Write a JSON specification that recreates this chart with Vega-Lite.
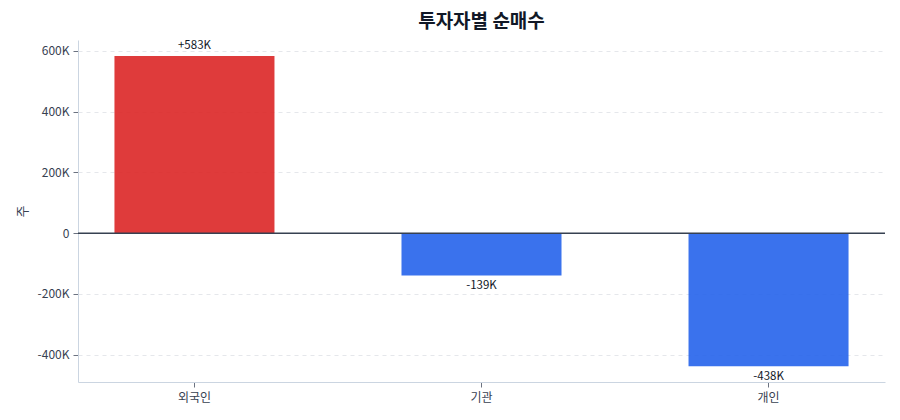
{
  "$schema": "https://vega.github.io/schema/vega-lite/v6.json",
  "description": "투자자별 순매수 bar chart",
  "autosize": "none",
  "width": 807,
  "height": 342,
  "padding": {"left": 78, "top": 40, "right": 15, "bottom": 38},
  "title": {
    "text": "투자자별 순매수",
    "fontSize": 19,
    "fontWeight": "bold",
    "color": "#111827",
    "anchor": "middle",
    "offset": 8
  },
  "data": {
    "values": [
      {"investor": "외국인", "value": 583000},
      {"investor": "기관", "value": -139000},
      {"investor": "개인", "value": -438000}
    ]
  },
  "transform": [
    {"calculate": "(datum.value > 0 ? '+' : '') + round(datum.value / 1000) + 'K'", "as": "label"}
  ],
  "encoding": {
    "x": {
      "field": "investor",
      "type": "nominal",
      "sort": null,
      "scale": {"paddingInner": 0.4425, "paddingOuter": 0.127},
      "axis": {
        "title": null,
        "labelAngle": 0,
        "labelFontSize": 12,
        "labelColor": "#374151",
        "labelPadding": 5,
        "tickColor": "#6b7280",
        "tickSize": 5,
        "domainColor": "#cbd5e1"
      }
    }
  },
  "layer": [
    {
      "mark": {"type": "bar", "opacity": 0.9},
      "encoding": {
        "y": {
          "field": "value",
          "type": "quantitative",
          "scale": {"domain": [-490000, 636000], "nice": false, "zero": false},
          "axis": {
            "title": "주",
            "titleFontSize": 13,
            "titleFontWeight": "normal",
            "titleColor": "#374151",
            "titlePadding": 8,
            "values": [-400000, -200000, 0, 200000, 400000, 600000],
            "labelExpr": "datum.value === 0 ? '0' : (datum.value / 1000) + 'K'",
            "labelFontSize": 12,
            "labelColor": "#374151",
            "labelPadding": 4,
            "tickColor": "#6b7280",
            "tickSize": 5,
            "domainColor": "#cbd5e1",
            "grid": true,
            "gridColor": "#e5e7eb",
            "gridDash": [4, 4]
          }
        },
        "color": {
          "condition": {"test": "datum.value >= 0", "value": "#dc2626"},
          "value": "#2563eb"
        }
      }
    },
    {
      "data": {"values": [{"zero": 0}]},
      "mark": {"type": "rule", "color": "#374151", "strokeWidth": 1.5},
      "encoding": {"y": {"field": "zero", "type": "quantitative"}, "x": null}
    },
    {
      "transform": [{"filter": "datum.value >= 0"}],
      "mark": {"type": "text", "baseline": "bottom", "dy": -5, "fontSize": 11.5, "color": "#111827"},
      "encoding": {
        "y": {"field": "value", "type": "quantitative"},
        "text": {"field": "label"}
      }
    },
    {
      "transform": [{"filter": "datum.value < 0"}],
      "mark": {"type": "text", "baseline": "top", "dy": 5, "fontSize": 11.5, "color": "#111827"},
      "encoding": {
        "y": {"field": "value", "type": "quantitative"},
        "text": {"field": "label"}
      }
    }
  ],
  "config": {
    "font": "Noto Sans CJK KR",
    "view": {"stroke": null},
    "axis": {"labelFont": "Noto Sans CJK KR", "titleFont": "Noto Sans CJK KR"}
  }
}
